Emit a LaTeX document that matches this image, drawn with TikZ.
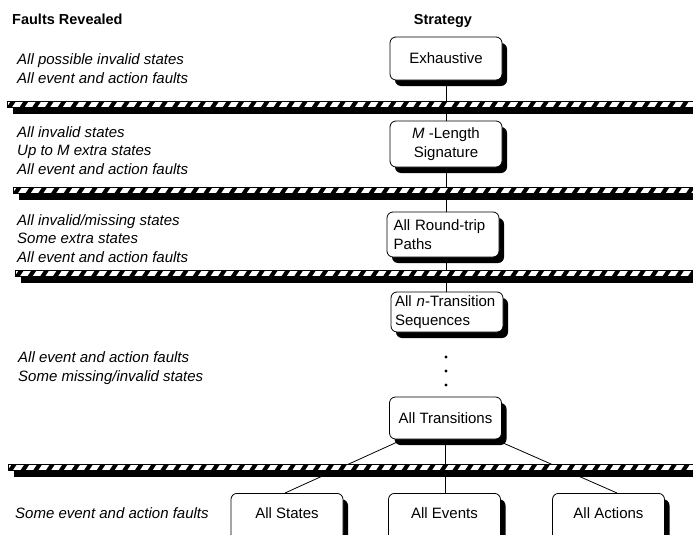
\documentclass[tikz,border=0pt]{standalone}
\usepackage{fontspec}
\setmainfont{Liberation Sans}
\usetikzlibrary{shadows,backgrounds}
\newcommand\stripebar[2]{%
  \fill[black] (#1+6,-#2-7) rectangle (700,-#2-13);
  \fill[white] (#1,-#2) rectangle (700,-#2-6);
  \begin{scope}
    \clip (#1,-#2) rectangle (700,-#2-6);
    \foreach \k in {0,...,56}
      \fill[black] (#1+\k*12.7,-#2-6) -- ++(5,0) -- ++(4,6) -- ++(-5,0) -- cycle;
  \end{scope}
  \draw[line width=0.7pt] (#1,-#2) rectangle (700,-#2-6);}
\begin{document}
\begin{tikzpicture}[x=1pt,y=1pt,
  txt/.style={font=\fontsize{15}{18.5}\selectfont},
  ltext/.style={txt, font=\fontsize{15}{18.5}\selectfont\itshape, anchor=base west, inner sep=0pt},
  head/.style={font=\fontsize{14.5}{17}\selectfont\bfseries, anchor=base, inner sep=0pt},
  sbox/.style={txt, draw, fill=white, line width=0.8pt, rounded corners=6pt,
    minimum width=112pt, inner sep=0pt, align=center,
    general shadow={fill=black, shadow xshift=5pt, shadow yshift=-6pt}},
  lbox/.style={sbox, text width=100pt, inner xsep=6pt, align=left},
  bbox/.style={sbox, anchor=north, text height=25pt, text depth=22pt},
  conn/.style={line width=0.8pt},
  dotn/.style={circle, fill=black, inner sep=0pt, minimum size=3.2pt}]
\useasboundingbox (0,0) rectangle (693,-535);
\clip (0,0) rectangle (693,-535);

% headers
\node[head, anchor=base west] (h1) at (12,-25) {Faults Revealed};
\node[head] (h2) at (443,-25) {Strategy};

% left texts
\node[ltext] (a1) at (17,-65) {All possible invalid states};
\node[ltext] (a2) at (17,-83.5) {All event and action faults};
\node[ltext] (b1) at (17,-137) {All invalid states};
\node[ltext] (b2) at (17,-155.5) {Up to M extra states};
\node[ltext] (b3) at (17,-174) {All event and action faults};
\node[ltext] (c1) at (17,-225) {All invalid/missing states};
\node[ltext] (c2) at (17,-243.5) {Some extra states};
\node[ltext] (c3) at (17,-262) {All event and action faults};
\node[ltext] (e1) at (18,-362) {All event and action faults};
\node[ltext] (e2) at (18,-381) {Some missing/invalid states};
\node[ltext] (f1) at (15,-518) {Some event and action faults};

% strategy boxes
\node[sbox, minimum height=43pt] (Ex) at (446,-58.5) {Exhaustive};
\node[sbox, minimum height=46pt] (ML) at (446,-144) {\textit{M} -Length\\Signature};
\node[lbox, minimum height=45pt, text width=99pt] (RT) at (443,-234.5) {All Round-trip\\Paths};
\node[lbox, minimum height=40pt, text width=104pt, inner xsep=4pt] (NT) at (447,-312) {All \textit{n}-Transition\\Sequences};
\node[dotn] (d1) at (446,-357) {};
\node[dotn] (d2) at (446,-371) {};
\node[dotn] (d3) at (446,-385) {};
\node[sbox, minimum height=42pt] (AT) at (445.5,-418) {All Transitions};
\node[bbox] (St) at (287,-493) {All States};
\node[bbox] (Ev) at (444.5,-493) {All Events};
\node[bbox] (Ac) at (608.5,-493) {All Actions};

% connectors
\begin{pgfonlayer}{background}
\draw[conn] (Ex.south) -- (Ex.south |- ML.north);
\draw[conn] (ML.south) -- (ML.south |- RT.north);
\draw[conn] (ML.south |- RT.south) -- (ML.south |- NT.north);
\draw[conn] ([xshift=-42.5pt]AT.south) -- ([xshift=-2pt]St.north);
\draw[conn] (AT.south) -- (AT.south |- Ev.north);
\draw[conn] ([xshift=49.5pt]AT.south) -- ([xshift=8.5pt]Ac.north);
\end{pgfonlayer}

% hatched bars
\stripebar{7}{101}
\stripebar{13}{187}
\stripebar{15}{270}
\stripebar{8}{464}
\end{tikzpicture}
\end{document}
